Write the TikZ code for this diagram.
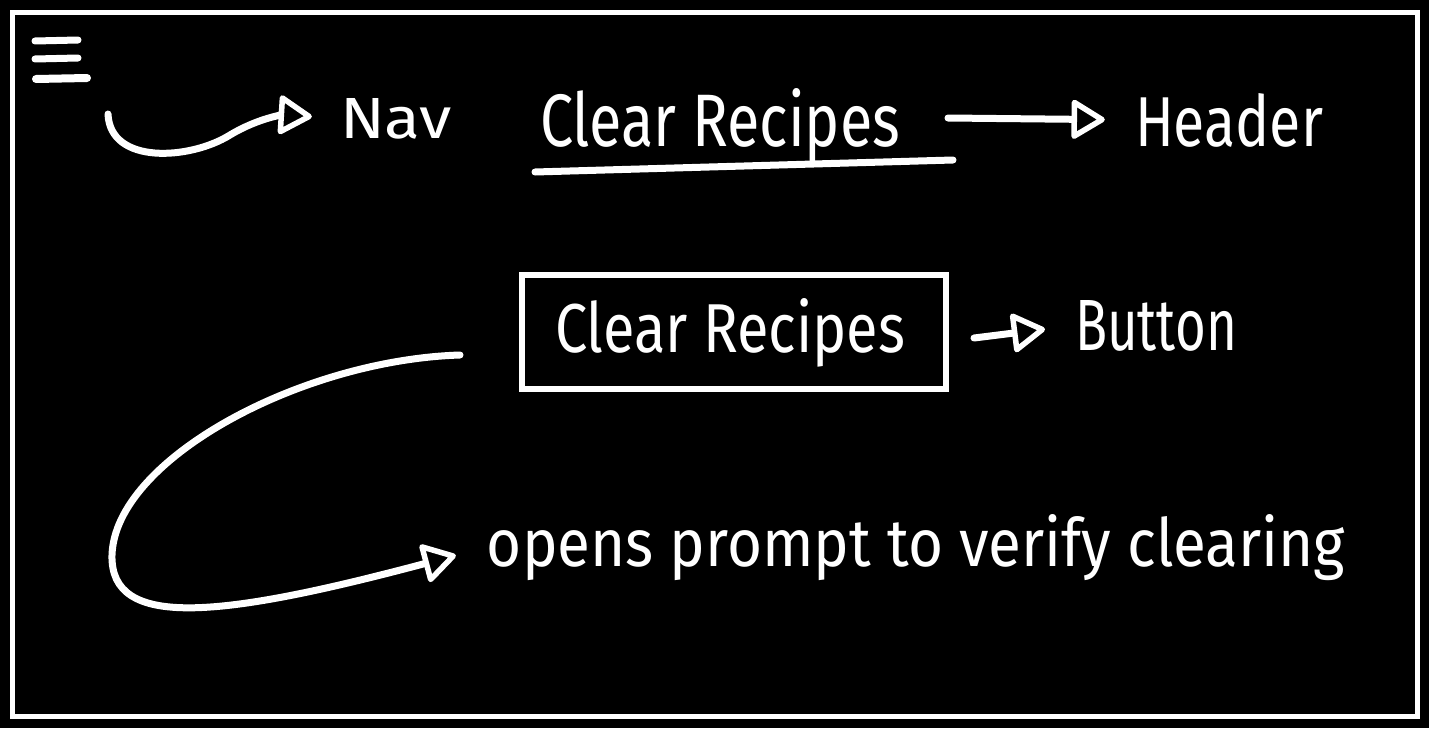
\documentclass[tikz,border=0pt]{standalone}
\usepackage{fontspec}
\usepackage{graphicx}
\setmainfont{Fira Sans}
\usetikzlibrary{arrows.meta}
\newcommand{\fitw}[3]{\resizebox{#1}{#2}{#3}}
\tikzset{
  ink/.style={draw=white, line width=7pt, line cap=round, line join=round},
  arr/.style={ink, -{Triangle[open, length=36pt, width=42pt, line width=5.5pt, line join=round]}},
  lbl/.style={text=white, inner sep=0pt, font=\fontsize{40}{48}\selectfont, anchor=base},
}
\begin{document}
\begin{tikzpicture}[x=1pt,y=-1pt]
\fill[black] (0,0) rectangle (1429,728);
\useasboundingbox (0,0) rectangle (1429,728);
\draw[white, line width=5pt] (12,12) rectangle (1417,716);
% hamburger
\draw[ink, line width=7pt] (35,41) -- (78,40);
\draw[ink, line width=7pt] (35,59) -- (78,58);
\draw[ink, line width=8pt] (36,79) -- (87,78);
% texts
\node[lbl] (nav) at (396,138) {\fitw{112pt}{40pt}{Nav}};
\node[lbl] (htitle) at (720,146) {\fitw{360pt}{58pt}{Clear Recipes}};
\node[lbl] (header) at (1229,146) {\fitw{188pt}{53pt}{Header}};
\node[lbl] (btntext) at (730,352) {\fitw{350pt}{54pt}{Clear Recipes}};
\node[lbl] (button) at (1156,350) {\fitw{162pt}{50pt}{Button}};
\node[lbl] (opens) at (916,566) {\fitw{858pt}{52pt}{opens prompt to verify clearing}};
% underline
\coordinate (ul1) at (535,172);
\coordinate (ul2) at (953,160);
\draw[ink] (ul1) -- (ul2);
% button box
\node[draw=white, line width=6pt, minimum width=424pt, minimum height=114pt] (box) at (734,332) {};
% arrows
\coordinate (navstart) at (108,114);
\draw[arr, shorten >=28pt] (navstart) .. controls (110,165) and (190,160) .. (230,135) .. controls (260,117) and (285,115) .. (nav.west);
\coordinate (hstart) at (948,118);
\draw[arr, shorten >=30pt] (hstart) -- (header.west);
\draw[arr, shorten >=30pt] (box.east) ++(25pt,-6pt) coordinate (bstart) -- (button.west);
\coordinate (cstart) at (460,355);
\draw[arr, shorten >=32pt] (cstart) .. controls (300,360) and (115,460) .. (112,555) .. controls (110,630) and (220,618) .. (opens.west);
\end{tikzpicture}
\end{document}
